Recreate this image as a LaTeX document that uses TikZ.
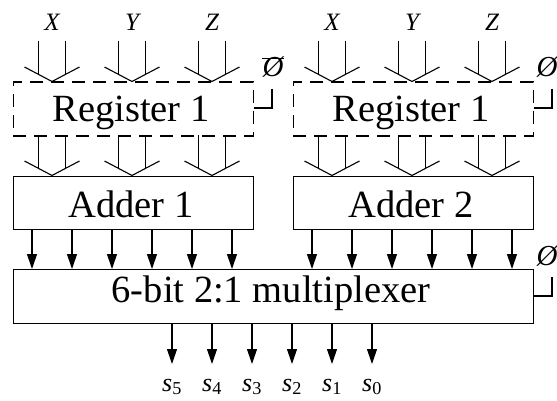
\documentclass[tikz,border=0pt]{standalone}
\usepackage{fontspec}
\setmainfont{Liberation Serif}
\usepackage{graphicx}
\usetikzlibrary{arrows.meta}
\newcommand{\boxfont}[1]{{\fontsize{38.5}{42}\selectfont #1}}
\newcommand{\lblfont}[1]{{\fontsize{25}{28}\selectfont\itshape #1}}
\newcommand{\phifont}{{\fontsize{29}{32}\selectfont\itshape Ø}}
\tikzset{
  wire/.style={line width=1.1pt},
  arr/.style={wire,-{Triangle[length=15pt,width=10pt]}},
  sbox/.style={draw,line width=1.1pt,anchor=north west,inner sep=0pt},
  dbox/.style={draw,line width=1.1pt,anchor=north west,inner sep=0pt,dash pattern=on 13pt off 8pt},
  txt/.style={inner sep=0pt,anchor=base},
  pics/bus/.style={code={
    \draw[wire] (-13.5,-40) -- (-13.5,-7);
    \draw[wire] (13.5,-40) -- (13.5,-7);
    \draw[wire] (-27.5,-14.5) -- (0,0) -- (27.5,-14.5);
  }}
}
\begin{document}
\begin{tikzpicture}[x=1pt,y=-1pt]
\useasboundingbox (0,0) rectangle (557,401);
\clip (0,0) rectangle (557,401);
% boxes
\node[dbox,minimum width=240pt,minimum height=54pt] (reg1) at (12.5,81.5) {};
\node[dbox,minimum width=240pt,minimum height=54pt] (reg2) at (292.5,81.5) {};
\node[sbox,minimum width=240pt,minimum height=53pt] (add1) at (12.5,176) {};
\node[sbox,minimum width=240pt,minimum height=53pt] (add2) at (292.5,176) {};
\node[sbox,minimum width=520pt,minimum height=54pt] (mux) at (12.5,269) {};
% box texts
\node[txt] (reg1t) at (131,122) {\boxfont{Register 1}};
\node[txt] (reg2t) at (411,122) {\boxfont{Register 1}};
\node[txt] (add1t) at (131,217) {\boxfont{Adder 1}};
\node[txt] (add2t) at (411,217) {\boxfont{Adder 2}};
\node[txt] (muxt) at (271,302) {\boxfont{6-bit 2:1 multiplexer}};
% inputs
\foreach \c/\l in {52/X,132/Y,212/Z,332/X,412/Y,492/Z}{
  \node[txt] (in\c) at (\c,31) {\lblfont{\l}};
  \pic at (\c,81.5) {bus};
  \pic at (\c,175.5) {bus};
}
% adder to mux
\foreach \x in {32,72,...,232}{
  \draw[arr] (add1.south -| \x,0) -- (mux.north -| \x,0);
}
\foreach \x in {312,352,...,512}{
  \draw[arr] (add2.south -| \x,0) -- (mux.north -| \x,0);
}
% outputs
\foreach \x/\i in {172/5,212/4,252/3,292/2,332/1,372/0}{
  \node[txt] (s\i) at (\x,391) {\fontsize{26}{30}\selectfont\textit{s}\textsubscript{\upshape\i}};
  \coordinate (e\i) at (\x,364);
  \draw[arr] (mux.south -| \x,0) -- (e\i);
}
% control signals
\node[inner sep=0pt] (phib) at (273,67) {\phifont};
\draw[line width=1.1pt] ([xshift=-11pt,yshift=-2pt]phib.north) coordinate (ob1) -- ([xshift=11pt,yshift=-2pt]phib.north) coordinate (ob2);
\coordinate (c1) at (272,89);
\draw[wire] (c1) |- (reg1.east |- 0,108);
\node[inner sep=0pt] (phi2) at (547,67) {\phifont};
\coordinate (c2) at (552,89);
\draw[wire] (c2) |- (reg2.east |- 0,108);
\node[inner sep=0pt] (phi3) at (547,256) {\phifont};
\coordinate (c3) at (552,277);
\draw[wire] (c3) |- (mux.east |- 0,296);
\end{tikzpicture}
\end{document}
